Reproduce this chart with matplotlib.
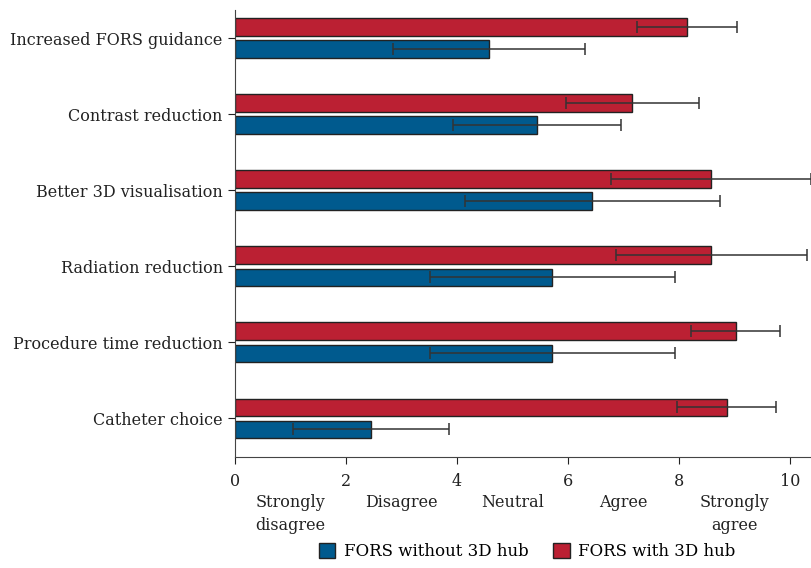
import numpy as np
import matplotlib.pyplot as plt
import matplotlib.transforms as mtransforms

# Datos
categories = ["Increased FORS guidance", "Contrast reduction", "Better 3D visualisation",
              "Radiation reduction", "Procedure time reduction", "Catheter choice"]
with_hub = [8.15, 7.16, 8.58, 8.58, 9.02, 8.86]
with_hub_err = [0.90, 1.20, 1.80, 1.72, 0.81, 0.89]
without_hub = [4.58, 5.44, 6.44, 5.72, 5.72, 2.45]
without_hub_err = [1.73, 1.51, 2.30, 2.21, 2.21, 1.40]
likert_pos = [1, 3, 5, 7, 9]
likert_labels = ["Strongly\ndisagree", "Disagree", "Neutral", "Agree", "Strongly\nagree"]

blue = "#005a8e"
red = "#bb2033"

plt.rcParams['font.family'] = ['DejaVu Serif']

fig = plt.figure(figsize=(8.11, 5.68), dpi=100)
ax = fig.add_axes([0.29, 0.195, 0.71, 0.787])

y = np.arange(len(categories))
off = 0.145
h = 0.235
err_kw = dict(ecolor="#333333", elinewidth=1.1, capsize=4.5, capthick=1.1)

ax.barh(y - off, with_hub, height=h, color=red, edgecolor="#222222", linewidth=1,
        xerr=with_hub_err, error_kw=err_kw, label="FORS with 3D hub")
ax.barh(y + off, without_hub, height=h, color=blue, edgecolor="#222222", linewidth=1,
        xerr=without_hub_err, error_kw=err_kw, label="FORS without 3D hub")

ax.set_xlim(0, 10.38)
ax.set_ylim(5.51, -0.37)
ax.set_yticks(y)
ax.set_yticklabels(categories, fontsize=11.5, color="#222222")
ax.set_xticks([0, 2, 4, 6, 8, 10])
ax.tick_params(axis='x', labelsize=11.5, colors="#222222", length=5, pad=6)
ax.tick_params(axis='y', length=5, pad=4, colors="#222222")

for s in ['top', 'right']:
    ax.spines[s].set_visible(False)
for s in ['left', 'bottom']:
    ax.spines[s].set_color("#444444")

trans = mtransforms.blended_transform_factory(ax.transData, ax.transAxes)
for xp, lab in zip(likert_pos, likert_labels):
    ax.text(xp, -0.083, lab, transform=trans, ha='center', va='top',
            fontsize=11.5, color="#222222", linespacing=1.45)

handles, labels = ax.get_legend_handles_labels()
fig.legend(handles[::-1], labels[::-1], loc='lower center', bbox_to_anchor=(0.65, -0.012),
           ncol=2, frameon=False, fontsize=12, handlelength=1.0, handleheight=1.0,
           columnspacing=1.5, handletextpad=0.5)

plt.savefig("out.png", dpi=100)
